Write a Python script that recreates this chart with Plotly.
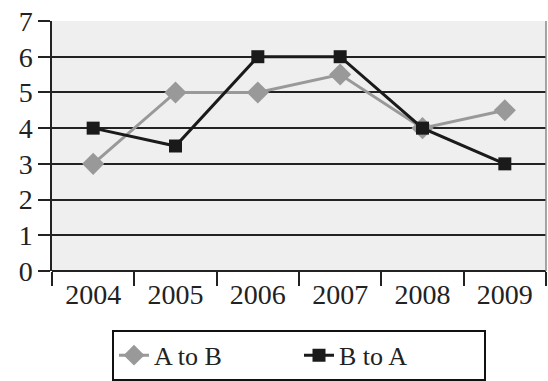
import plotly.graph_objects as go

years = ["2004", "2005", "2006", "2007", "2008", "2009"]
a_to_b = [3, 5, 5, 5.5, 4, 4.5]
b_to_a = [4, 3.5, 6, 6, 4, 3]
y_ticks = [0, 1, 2, 3, 4, 5, 6, 7]

font = dict(family="Liberation Serif, DejaVu Serif, serif", size=28, color="#222")
legend_font = dict(family="Liberation Serif, DejaVu Serif, serif", size=26, color="#222")

fig = go.Figure()
fig.add_trace(go.Scatter(
    x=years, y=a_to_b, name="A to B", mode="lines+markers",
    line=dict(color="#999999", width=3),
    marker=dict(symbol="diamond", size=17, color="#999999"),
))
fig.add_trace(go.Scatter(
    x=years, y=b_to_a, name="B to A", mode="lines+markers",
    line=dict(color="#1a1a1a", width=3),
    marker=dict(symbol="square", size=13, color="#1a1a1a"),
))

fig.update_layout(
    width=548, height=381,
    margin=dict(l=52, r=2, t=21, b=110, autoexpand=False),
    paper_bgcolor="white", plot_bgcolor="#efefef",
    font=font,
    showlegend=True,
    legend=dict(orientation="h", x=0.5, xanchor="center", y=-0.235, yanchor="top",
                bordercolor="#111", borderwidth=2, bgcolor="white",
                font=legend_font, entrywidth=140, entrywidthmode="pixels"),
)
fig.update_xaxes(
    type="category", showgrid=False, tickson="boundaries", ticks="outside",
    ticklen=14, tickwidth=1.5, tickcolor="#222", showline=False,
    zeroline=False, tickfont=font, range=[-0.5, 5.5], automargin=False,
    ticklabeloverflow="allow", ticklabelstandoff=4,
)
fig.update_yaxes(
    range=[0, 7], tickvals=y_ticks, showgrid=True, gridcolor="#222", gridwidth=1.5,
    ticks="outside", ticklen=12, tickwidth=1.5, tickcolor="#222",
    showline=True, linecolor="#222", linewidth=1.5, zeroline=True,
    zerolinecolor="#222", zerolinewidth=1.5, tickfont=font, automargin=False,
    ticklabeloverflow="allow",
)
fig.add_shape(type="line", xref="paper", yref="paper", x0=1, x1=1, y0=0, y1=1,
              line=dict(color="#888", width=1.5))
# remove the browser's default 8px body margin so the figure fills the window
fig.write_html("out.html", config={"displayModeBar": False},
               post_script="document.body.style.margin='0';")
